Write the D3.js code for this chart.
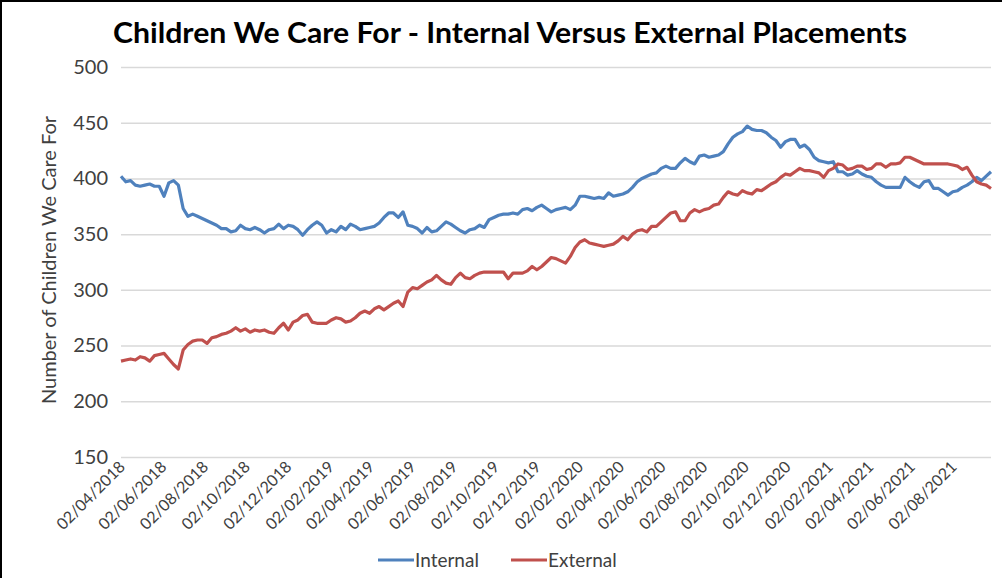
<!DOCTYPE html>
<html>
<head>
<meta charset="utf-8">
<script src="https://cdn.jsdelivr.net/npm/d3@7"></script>
<style>
  body { margin: 0; background: #fff; }
  text { font-family: Lato, "Open Sans", sans-serif; }
</style>
</head>
<body>
<div id="chart"></div>
<script>
// weekly snapshots, first week starts on Monday 02/04/2018
var startDate = new Date(2018, 3, 2);

var internal = [402,397,398,394,393,394,395,393,393,384,396,398,394,373,366,368,366,364,362,360,
  358,355,355,352,353,358,355,354,356,354,351,354,355,359,355,358,357,354,349,354,
  358,361,358,351,354,352,357,354,359,357,354,355,356,357,360,365,369,369,365,370,
  358,357,355,351,356,352,353,357,361,359,356,353,351,354,355,358,356,363,365,367,
  368,368,369,368,372,373,371,374,376,373,370,372,373,374,372,376,384,384,383,382,
  383,382,387,384,385,386,388,392,397,400,402,404,405,409,411,409,409,414,418,415,
  413,420,421,419,420,421,424,431,437,440,442,447,444,443,443,441,437,434,428,433,
  435,435,428,430,426,419,416,415,414,415,406,406,403,404,407,404,402,401,397,394,
  392,392,392,392,401,397,394,392,397,398,391,391,388,385,388,389,392,394,397,401,
  398,402,406];

var external = [236,237,238,237,240,239,236,241,242,243,238,233,229,246,251,254,255,255,252,257,
  258,260,261,263,266,263,265,262,264,263,264,262,261,266,270,264,271,273,277,278,
  271,270,270,270,273,275,274,271,272,275,279,281,279,283,285,282,285,288,290,285,
  298,302,301,304,307,309,313,309,306,305,311,315,311,310,313,315,316,316,316,316,
  316,310,315,315,315,317,321,318,321,325,329,328,326,324,330,338,343,345,342,341,
  340,339,340,341,344,348,345,350,353,354,352,357,357,361,365,369,370,362,362,369,
  372,370,372,373,376,377,383,388,386,385,389,387,386,390,389,392,395,397,401,404,
  403,406,409,407,407,406,405,401,407,409,413,412,408,409,411,411,408,409,413,413,
  410,413,413,414,419,419,417,415,413,413,413,413,413,413,412,411,408,410,403,397,
  395,394,391];

var seriesNames = ["Internal", "External"];
var seriesColors = ["#4f81bd", "#c0504d"];
var yTicks = [150, 200, 250, 300, 350, 400, 450, 500];

var W = 1002, H = 578;
var margin = {top: 67, right: 11, bottom: 121, left: 121};

var dates = internal.map(function(d, i) { return d3.timeDay.offset(startDate, 7 * i); });

var x = d3.scaleTime()
  .domain([dates[0], dates[dates.length - 1]])
  .range([margin.left, W - margin.right]);
var y = d3.scaleLinear()
  .domain([150, 500])
  .range([H - margin.bottom, margin.top]);

var svg = d3.select("#chart").append("svg")
  .attr("width", W)
  .attr("height", H);

svg.append("rect")
  .attr("width", W).attr("height", H)
  .attr("fill", "#fff");

// frame lines along the top and left edge
svg.append("line").attr("x1", 0).attr("x2", W).attr("y1", 1).attr("y2", 1)
  .attr("stroke", "#000").attr("stroke-width", 2);
svg.append("line").attr("x1", 1).attr("x2", 1).attr("y1", 0).attr("y2", H)
  .attr("stroke", "#000").attr("stroke-width", 2);

// title
svg.append("text")
  .attr("x", 510)
  .attr("y", 43)
  .attr("text-anchor", "middle")
  .attr("font-size", 28)
  .attr("font-weight", "bold")
  .attr("fill", "#000")
  .attr("textLength", 794)
  .attr("lengthAdjust", "spacingAndGlyphs")
  .text("Children We Care For - Internal Versus External Placements");

// y gridlines + labels
var yAxis = svg.append("g")
  .attr("transform", "translate(" + margin.left + ",0)")
  .call(d3.axisLeft(y).tickValues(yTicks).tickSize(-(W - margin.left - margin.right)).tickPadding(13));
yAxis.select(".domain").remove();
yAxis.selectAll(".tick line").attr("stroke", "#d9d9d9").attr("stroke-width", 1.5);
yAxis.selectAll(".tick text")
  .attr("font-size", 20)
  .attr("fill", "#404040")
  .style("font-family", "Lato, sans-serif");

// y axis title
svg.append("text")
  .attr("transform", "translate(56," + (y(325) - 2) + ") rotate(-90)")
  .attr("text-anchor", "middle")
  .attr("font-size", 20)
  .attr("fill", "#404040")
  .text("Number of Children We Care For");

// x tick labels every two months
var xTicks = d3.range(0, 21).map(function(i) { return d3.timeMonth.offset(startDate, 2 * i); });
var fmt = d3.timeFormat("%d/%m/%Y");
svg.append("g")
  .selectAll("text")
  .data(xTicks)
  .enter()
  .append("text")
    .attr("transform", function(d) { return "translate(" + (x(d) + 5) + ",468) rotate(-45)"; })
    .attr("text-anchor", "end")
    .attr("font-size", 16)
    .attr("fill", "#404040")
    .text(function(d) { return fmt(d); });

// lines
var line = d3.line()
  .x(function(d, i) { return x(dates[i]); })
  .y(function(d) { return y(d); });

[internal, external].forEach(function(s, k) {
  svg.append("path")
    .datum(s)
    .attr("fill", "none")
    .attr("stroke", seriesColors[k])
    .attr("stroke-width", 3.2)
    .attr("stroke-linejoin", "round")
    .attr("d", line);
});

// legend
var legendX = [378, 511];
var legend = svg.append("g");
seriesNames.forEach(function(name, k) {
  legend.append("line")
    .attr("x1", legendX[k]).attr("x2", legendX[k] + 36)
    .attr("y1", 560).attr("y2", 560)
    .attr("stroke", seriesColors[k])
    .attr("stroke-width", 3.2);
  legend.append("text")
    .attr("x", legendX[k] + 37)
    .attr("y", 567)
    .attr("font-size", 19)
    .attr("fill", "#404040")
    .text(name);
});
</script>
</body>
</html>
